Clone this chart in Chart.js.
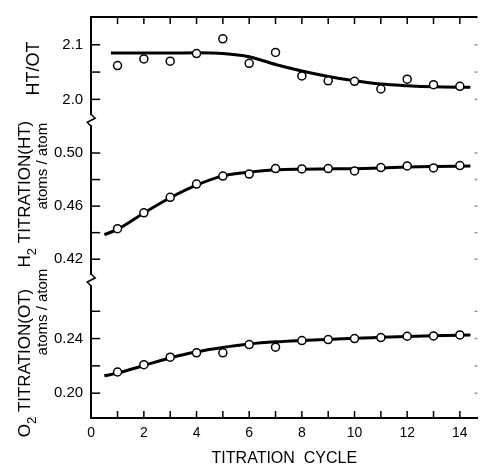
<!DOCTYPE html>
<html>
<head>
<meta charset="utf-8">
<script src="https://cdn.jsdelivr.net/npm/chart.js@4.4.0/dist/chart.umd.min.js"></script>
<style>
  html, body { margin: 0; padding: 0; background: #fff; }
  #wrap { width: 483px; height: 468px; }
</style>
</head>
<body>
<div id="wrap"><canvas id="chartTitration"></canvas></div>
<script>
// measured points, one per titration cycle
const cycles = [1, 2, 3, 4, 5, 6, 7, 8, 9, 10, 11, 12, 13, 14];
const ratioHtOt = [2.062, 2.074, 2.070, 2.084, 2.111, 2.066, 2.086, 2.043, 2.034, 2.033, 2.019, 2.037, 2.027, 2.024];
const titrationH2 = [0.4430, 0.4549, 0.4666, 0.4766, 0.4826, 0.4841, 0.4883, 0.4880, 0.4883, 0.4865, 0.4890, 0.4903, 0.4888, 0.4905];
const titrationO2 = [0.2155, 0.2209, 0.2264, 0.2296, 0.2296, 0.2356, 0.2337, 0.2385, 0.2393, 0.2400, 0.2407, 0.2417, 0.2419, 0.2427];

// smooth curves drawn through the points
const curveHtOtX = [0.75, 2, 3, 4, 5, 6, 7, 8, 9, 10, 11, 12, 13, 14.4];
const curveHtOtY = [2.085, 2.085, 2.085, 2.0853, 2.084, 2.078, 2.064, 2.052, 2.042, 2.034, 2.028, 2.025, 2.023, 2.022];
const curveH2X = [0.5, 1, 2, 3, 4, 5, 6, 7, 8, 9, 10, 11, 12, 13, 14.4];
const curveH2Y = [0.4385, 0.4425, 0.4548, 0.4663, 0.4758, 0.4828, 0.4856, 0.4873, 0.4878, 0.4880, 0.4882, 0.4887, 0.4894, 0.4898, 0.4902];
const curveO2X = [0.5, 1, 2, 3, 4, 5, 6, 7, 8, 9, 10, 11, 12, 13, 14.4];
const curveO2Y = [0.2127, 0.2147, 0.2203, 0.2258, 0.2303, 0.2335, 0.2360, 0.2376, 0.2386, 0.2394, 0.2402, 0.2409, 0.2416, 0.2421, 0.2426];

// ticks
const xTicks = [0, 1, 2, 3, 4, 5, 6, 7, 8, 9, 10, 11, 12, 13, 14];
const xLabels = [0, 2, 4, 6, 8, 10, 12, 14];
const ticksHtOt = [2.0, 2.05, 2.1];
const labelsHtOt = [2.0, 2.1];
const ticksH2 = [0.42, 0.44, 0.46, 0.48, 0.50];
const labelsH2 = [0.42, 0.46, 0.50];
const ticksO2 = [0.20, 0.22, 0.24, 0.26];
const labelsO2 = [0.20, 0.24];

const FONT = "'Liberation Sans', Arial, sans-serif";

function toPts(xs, ys) {
    return xs.map((x, i) => ({ x: x, y: ys[i] }));
}

function panelScale(weight, stackWeight, min, max, tickValues, labelValues, digits) {
    return {
        type: 'linear',
        position: 'left',
        stack: 'panels',
        stackWeight: stackWeight,
        weight: weight,
        min: min,
        max: max,
        afterBuildTicks: function (s) {
            s.ticks = tickValues.map(v => ({ value: v }));
        },
        ticks: {
            callback: v => labelValues.some(l => Math.abs(l - v) < 1e-9) ? v.toFixed(digits) : '',
            font: { family: FONT, size: 15 },
            color: '#000',
            padding: 8
        },
        grid: { display: false, drawTicks: false },
        border: { display: true, color: '#000', width: 2 }
    };
}

function curveSet(xs, ys, axis) {
    return {
        data: toPts(xs, ys),
        yAxisID: axis,
        showLine: true,
        borderColor: '#000',
        borderWidth: 3,
        pointRadius: 0,
        cubicInterpolationMode: 'monotone',
        order: 2
    };
}

function pointSet(ys, axis) {
    return {
        data: toPts(cycles, ys),
        yAxisID: axis,
        showLine: false,
        pointStyle: 'circle',
        pointRadius: 4,
        pointBackgroundColor: '#fff',
        pointBorderColor: '#000',
        pointBorderWidth: 1.5,
        order: 1
    };
}

// inward tick marks, top frame line, axis breaks
const frameTicks = {
    id: 'frameTicks',
    afterDraw(chart) {
        const { ctx, chartArea, scales } = chart;
        const line = (x1, y1, x2, y2) => { ctx.beginPath(); ctx.moveTo(x1, y1); ctx.lineTo(x2, y2); ctx.stroke(); };
        ctx.save();
        ctx.strokeStyle = '#000';
        ctx.lineWidth = 2;
        line(chartArea.left, chartArea.top, chartArea.right, chartArea.top);
        ctx.lineWidth = 1.5;
        scales.x.ticks.forEach(t => {
            if (t.value === 0) return;
            const px = scales.x.getPixelForValue(t.value);
            line(px, chartArea.bottom, px, chartArea.bottom - 7);
            line(px, chartArea.top, px, chartArea.top + 7);
        });
        ['yTop', 'yMid', 'yBot'].forEach(id => {
            const s = scales[id];
            s.ticks.forEach(t => {
                const py = s.getPixelForValue(t.value);
                ctx.strokeStyle = '#000';
                line(s.right, py, s.right + 9, py);
                ctx.strokeStyle = '#999';
                line(chartArea.right - 3, py, chartArea.right, py);
            });
        });
        // breaks between panels
        ctx.strokeStyle = '#000';
        [scales.yTop.bottom, scales.yMid.bottom].forEach(b => {
            const ax = scales.yTop.right;
            ctx.fillStyle = '#fff';
            ctx.fillRect(ax - 3, b - 5, 6, 10);
            ctx.beginPath();
            ctx.moveTo(ax, b - 6);
            ctx.lineTo(ax + 4, b - 2);
            ctx.lineTo(ax - 4, b + 2);
            ctx.lineTo(ax, b + 6);
            ctx.stroke();
        });
        ctx.restore();
    }
};

// rotated y titles with a smaller second line
const yTitles = {
    id: 'yTitles',
    afterDraw(chart) {
        const { ctx, scales, chartArea } = chart;
        const left = chartArea.left;
        function rotated(x, y, parts) {
            ctx.save();
            ctx.translate(x, y);
            ctx.rotate(-Math.PI / 2);
            ctx.fillStyle = '#000';
            ctx.textBaseline = 'middle';
            ctx.textAlign = 'left';
            let total = 0;
            parts.forEach(p => { ctx.font = p.size + 'px ' + FONT; p.w = ctx.measureText(p.text).width; total += p.w; });
            let cx = -total / 2;
            parts.forEach(p => {
                ctx.font = p.size + 'px ' + FONT;
                ctx.fillText(p.text, cx, p.dy || 0);
                cx += p.w;
            });
            ctx.restore();
        }
        const top = scales.yTop, mid = scales.yMid, bot = scales.yBot;
        rotated(left - 57, (top.top + top.bottom) / 2, [{ text: 'HT/OT', size: 18 }]);
        rotated(left - 66, (mid.top + mid.bottom) / 2 - 6, [
            { text: 'H', size: 17 }, { text: '2', size: 13, dy: 7 }, { text: ' TITRATION(HT)', size: 17 }]);
        rotated(left - 48, mid.top + 46, [{ text: 'atoms / atom', size: 15 }]);
        rotated(left - 66, (bot.top + bot.bottom) / 2 + 14, [
            { text: 'O', size: 17 }, { text: '2', size: 13, dy: 7 }, { text: ' TITRATION(OT)', size: 17 }]);
        rotated(left - 48, bot.top + 32, [{ text: 'atoms / atom', size: 15 }]);
    }
};

const dataTitration = {
    datasets: [
        curveSet(curveHtOtX, curveHtOtY, 'yTop'),
        pointSet(ratioHtOt, 'yTop'),
        curveSet(curveH2X, curveH2Y, 'yMid'),
        pointSet(titrationH2, 'yMid'),
        curveSet(curveO2X, curveO2Y, 'yBot'),
        pointSet(titrationO2, 'yBot')
    ]
};

const configTitration = {
    type: 'scatter',
    data: dataTitration,
    options: {
        responsive: true,
        maintainAspectRatio: false,
        animation: false,
        layout: { padding: { left: 46, right: 1, top: 5, bottom: 0 } },
        plugins: {
            legend: { display: false },
            tooltip: { enabled: false }
        },
        scales: {
            x: {
                type: 'linear',
                min: 0,
                max: 14.67,
                afterBuildTicks: function (s) {
                    s.ticks = xTicks.map(v => ({ value: v }));
                },
                ticks: {
                    callback: v => xLabels.includes(v) ? String(v) : '',
                    font: { family: FONT, size: 14 },
                    color: '#000',
                    padding: 7,
                    maxRotation: 0,
                    autoSkip: false
                },
                grid: { display: false, drawTicks: false },
                border: { display: true, color: '#000', width: 2 },
                title: {
                    display: true,
                    text: 'TITRATION  CYCLE',
                    font: { family: FONT, size: 16 },
                    color: '#000',
                    padding: { top: 0, bottom: 0 }
                }
            },
            yTop: panelScale(3, 104, 1.9618, 2.1509, ticksHtOt, labelsHtOt, 1),
            yMid: panelScale(2, 161, 0.4043, 0.5247, ticksH2, labelsH2, 2),
            yBot: panelScale(1, 139, 0.1818, 0.2829, ticksO2, labelsO2, 2)
        }
    },
    plugins: [frameTicks, yTitles]
};

var chartTitration = new Chart(
    document.getElementById('chartTitration'),
    configTitration
);
</script>
</body>
</html>
